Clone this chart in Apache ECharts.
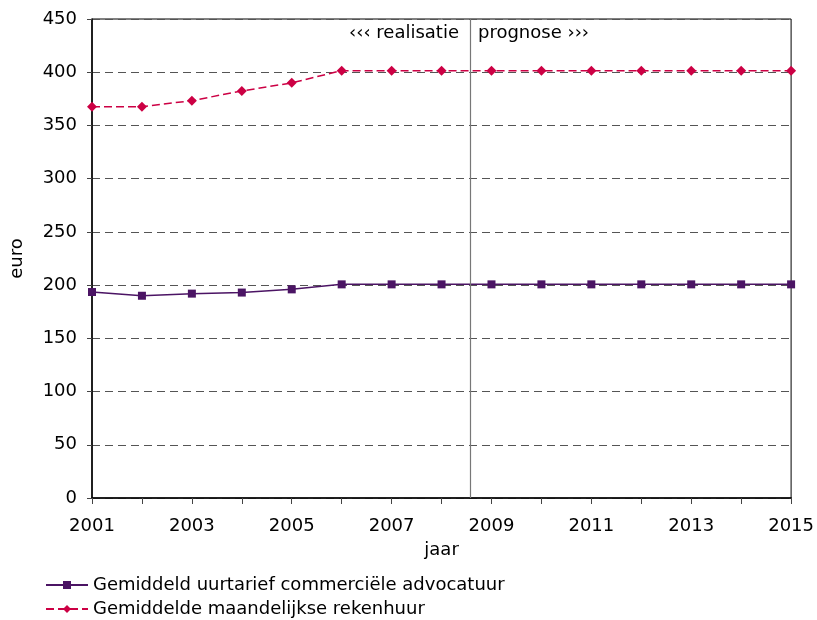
<!DOCTYPE html>
<html>
<head>
<meta charset="utf-8">
<script src="https://cdn.jsdelivr.net/npm/echarts@6/dist/echarts.min.js"></script>
<style>
  html, body { margin: 0; padding: 0; background: #fff; }
  #chart { width: 817px; height: 620px; }
</style>
</head>
<body>
<div id="chart"></div>
<script>
// jaren en waarden
var years = [2001, 2002, 2003, 2004, 2005, 2006, 2007, 2008, 2009, 2010, 2011, 2012, 2013, 2014, 2015];
var uurtarief = [193.5, 190, 192, 193, 196, 200.7, 200.7, 200.7, 200.7, 200.7, 200.7, 200.7, 200.7, 200.7, 200.7];
var rekenhuur = [367.6, 367.6, 373.3, 382.4, 390, 401.5, 401.5, 401.5, 401.5, 401.5, 401.5, 401.5, 401.5, 401.5, 401.5];
var splitYear = 2008.58; // grens realisatie / prognose
var seriesNames = ["Gemiddeld uurtarief commerciële advocatuur", "Gemiddelde maandelijkse rekenhuur"];

var font = "DejaVu Sans, Verdana, sans-serif";
var fs = 18;

function pairs(vals) {
  return years.map(function (y, i) { return [y, vals[i]]; });
}

function legendRow(name, top) {
  return {
    left: 40,
    top: top,
    itemWidth: 42,
    itemHeight: 10,
    textStyle: { fontFamily: font, fontSize: fs, color: "#000" },
    data: [name]
  };
}

var myChart = echarts.init(document.getElementById("chart"));
var option = {
  animation: false,
  textStyle: { fontFamily: font, color: "#000" },
  grid: { left: 92, right: 24, top: 19, bottom: 122, show: true, borderColor: "#000", borderWidth: 1 },
  legend: [legendRow(seriesNames[0], 571), legendRow(seriesNames[1], 595)],
  xAxis: {
    type: "value",
    min: 2001,
    max: 2015,
    interval: 2,
    name: "jaar",
    nameLocation: "middle",
    nameGap: 43,
    nameTextStyle: { fontFamily: font, fontSize: fs, color: "#000" },
    axisLine: { lineStyle: { color: "#000", width: 1.5 } },
    axisTick: { show: true, length: 6, lineStyle: { color: "#444" } },
    minorTick: { show: true, splitNumber: 2, length: 6, lineStyle: { color: "#444" } },
    axisLabel: {
      fontFamily: font, fontSize: fs, color: "#000", margin: 19,
      formatter: function (v) { return String(v); }
    },
    splitLine: { show: false }
  },
  yAxis: {
    type: "value",
    min: 0,
    max: 450,
    interval: 50,
    name: "euro",
    nameLocation: "middle",
    nameGap: 66,
    nameTextStyle: { fontFamily: font, fontSize: fs, color: "#000" },
    axisLine: { show: true, lineStyle: { color: "#000", width: 1.5 } },
    axisTick: { show: true, length: 5, lineStyle: { color: "#444" } },
    axisLabel: { fontFamily: font, fontSize: fs, color: "#000", margin: 15 },
    splitLine: { show: true, lineStyle: { color: "#555", type: [8, 5], width: 1 } }
  },
  series: [
    {
      name: seriesNames[0],
      type: "line",
      data: pairs(uurtarief),
      symbol: "rect",
      symbolSize: 8,
      color: "#4b1464",
      lineStyle: { color: "#4b1464", width: 1.5 },
      itemStyle: { color: "#4b1464" },
      markLine: {
        silent: true,
        symbol: "none",
        label: { show: false },
        lineStyle: { color: "#777", type: "solid", width: 1.2 },
        data: [{ xAxis: splitYear }]
      }
    },
    {
      name: seriesNames[1],
      type: "line",
      data: pairs(rekenhuur),
      symbol: "diamond",
      symbolSize: 10,
      color: "#cc0044",
      lineStyle: { color: "#cc0044", width: 1.5, type: [8, 4] },
      itemStyle: { color: "#cc0044" }
    }
  ],
  graphic: [
    {
      type: "text",
      right: 817 - 459,
      top: 24,
      style: { text: "‹‹‹ realisatie", font: fs + "px " + font, fill: "#000" }
    },
    {
      type: "text",
      left: 478,
      top: 24,
      style: { text: "prognose ›››", font: fs + "px " + font, fill: "#000" }
    }
  ]
};
myChart.setOption(option);
</script>
</body>
</html>
